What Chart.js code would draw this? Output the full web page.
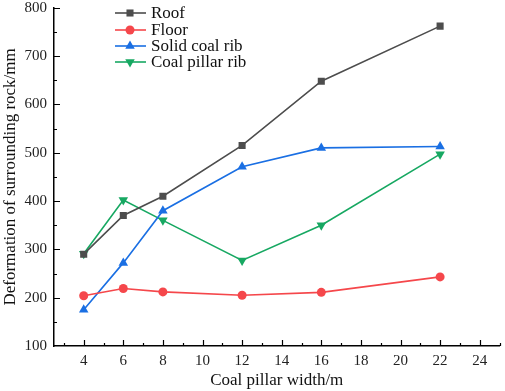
<!DOCTYPE html>
<html>
<head>
<meta charset="utf-8">
<script src="https://cdn.jsdelivr.net/npm/chart.js@4"></script>
<style>
  html, body { margin: 0; padding: 0; background: #fff; }
  #wrap { width: 505px; height: 391px; }
</style>
</head>
<body>
<div id="wrap"><canvas id="lineChart"></canvas></div>
<script>
// data
const widths = [4, 6, 8, 12, 16, 22];
const roof = [290, 370, 410, 515, 648, 762];
const floor = [204, 219, 212, 205, 211, 243];
const solidRib = [175, 272, 380, 471, 510, 513];
const pillarRib = [291, 402, 360, 277, 350, 497];

const xTicks = [4, 6, 8, 10, 12, 14, 16, 18, 20, 22, 24];
const yTicks = [100, 200, 300, 400, 500, 600, 700, 800];

const serif = '"Liberation Serif", serif';
Chart.defaults.font.family = serif;

function pts(ys) {
  return widths.map((w, i) => ({ x: w, y: ys[i] }));
}

function series(label, ys, color, style, radius, rotation) {
  return {
    label: label,
    data: pts(ys),
    borderColor: color,
    backgroundColor: color,
    borderWidth: 1.6,
    pointStyle: style,
    pointRadius: radius,
    pointRotation: rotation || 0,
    pointBorderWidth: 0,
    pointHoverRadius: radius,
    tension: 0
  };
}

//-- inward ticks (major + minor) like the original figure
const innerTicks = {
  id: 'innerTicks',
  afterDatasetsDraw(chart) {
    const ctx = chart.ctx;
    const xs = chart.scales.x, ys = chart.scales.y;
    const area = chart.chartArea;
    ctx.save();
    ctx.strokeStyle = '#000';
    ctx.lineWidth = 1.2;
    ctx.beginPath();
    for (let v = 3; v <= 25; v += 1) {
      const px = Math.round(xs.getPixelForValue(v)) + 0.5;
      const len = v % 2 === 0 ? 6 : 3;
      ctx.moveTo(px, area.bottom);
      ctx.lineTo(px, area.bottom - len);
    }
    for (let v = 150; v <= 800; v += 50) {
      const py = Math.round(ys.getPixelForValue(v)) + 0.5;
      const len = v % 100 === 0 ? 6 : 3;
      ctx.moveTo(area.left, py);
      ctx.lineTo(area.left + len, py);
    }
    ctx.stroke();
    ctx.restore();
  }
};

//-- legend with line + marker, top left inside the plot
const lineLegend = {
  id: 'lineLegend',
  afterDraw(chart) {
    const ctx = chart.ctx;
    const rows = [13, 30, 46, 62];
    ctx.save();
    chart.data.datasets.forEach((ds, i) => {
      const y = rows[i];
      ctx.strokeStyle = ds.borderColor;
      ctx.lineWidth = ds.borderWidth;
      ctx.beginPath();
      ctx.moveTo(115, y);
      ctx.lineTo(146, y);
      ctx.stroke();
      ctx.fillStyle = ds.backgroundColor;
      Chart.helpers.drawPoint(ctx, {
        pointStyle: ds.pointStyle,
        radius: ds.pointRadius,
        rotation: ds.pointRotation,
        borderWidth: 0
      }, 130, y);
    });
    ctx.font = '17px ' + serif;
    ctx.fillStyle = '#111';
    ctx.textBaseline = 'middle';
    ctx.textAlign = 'left';
    chart.data.datasets.forEach((ds, i) => {
      ctx.fillText(ds.label, 151, rows[i] + 1);
    });
    ctx.restore();
  }
};

const ctx = document.getElementById('lineChart').getContext('2d');
const lineChart = new Chart(ctx, {
  type: 'line',
  data: {
    datasets: [
      series('Roof', roof, '#4d4d4d', 'rect', 5),
      series('Floor', floor, '#f5474b', 'circle', 4.5),
      series('Solid coal rib', solidRib, '#1a6fe3', 'triangle', 5.5),
      series('Coal pillar rib', pillarRib, '#17a862', 'triangle', 5.5, 180)
    ]
  },
  plugins: [innerTicks, lineLegend],
  options: {
    responsive: true,
    maintainAspectRatio: false,
    animation: false,
    layout: { padding: { top: 0, right: 3, left: 0, bottom: 0 } },
    scales: {
      x: {
        type: 'linear',
        min: 2.5,
        max: 25,
        afterBuildTicks: s => { s.ticks = xTicks.map(v => ({ value: v })); },
        afterFit: s => { s.height = 45; },
        grid: { display: false, drawTicks: false },
        border: { display: true, color: '#000', width: 1.5 },
        ticks: {
          padding: 6,
          color: '#222',
          font: { family: serif, size: 15 },
          maxRotation: 0
        },
        title: {
          display: true,
          text: 'Coal pillar width/m',
          color: '#111',
          font: { family: serif, size: 17 },
          padding: { top: 0, bottom: 0 }
        }
      },
      y: {
        min: 100,
        max: 800,
        afterBuildTicks: s => { s.ticks = yTicks.map(v => ({ value: v })); },
        afterFit: s => { s.width = 54; },
        grid: { display: false, drawTicks: false },
        border: { display: true, color: '#000', width: 1.5 },
        ticks: {
          padding: 7,
          color: '#222',
          font: { family: serif, size: 15, lineHeight: 0.1 }
        },
        title: {
          display: true,
          text: 'Deformation of surrounding rock/mm',
          color: '#111',
          font: { family: serif, size: 17 },
          padding: { top: 0, bottom: 2 }
        }
      }
    },
    plugins: {
      legend: { display: false },
      tooltip: { enabled: false }
    }
  }
});
</script>
</body>
</html>
